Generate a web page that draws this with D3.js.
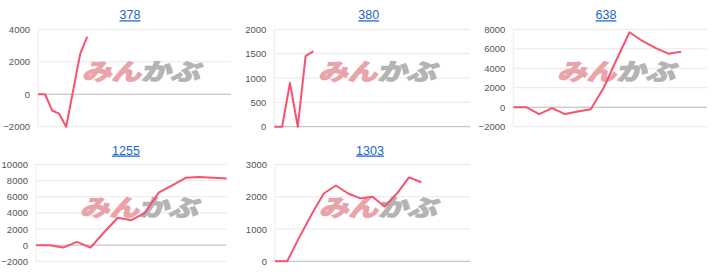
<!DOCTYPE html>
<html lang="ja">
<head>
    <meta charset="UTF-8">
    <title>収支グラフ</title>
    <script src="https://cdn.jsdelivr.net/npm/d3@7"></script>
    <style>
        body { margin: 0; background: #fff; }
        svg { display: block; }
        .title { font-family: Arial, "Liberation Sans", sans-serif; font-size: 12.5px; fill: #1a66cc; text-decoration: underline; }
        .tick-label { font-family: Arial, "Liberation Sans", sans-serif; font-size: 9.5px; fill: #555; }
    </style>
</head>
<body>
    <div id="chart-space"></div>

    <script>
        // chart titles (machine numbers)
        var titles = ["378", "380", "638", "1255", "1303"];

        // cumulative results, one value per day
        var s378 = [0, 0, -1000, -1200, -2000, 250, 2500, 3550];
        var s380 = [0, 0, 900, 0, 1450, 1550];
        var s638 = [0, 0, -700, -100, -700, -450, -200, 2000, 4900, 7700, 6800, 6100, 5500, 5700];
        var s1255 = [0, 0, -300, 400, -300, 1600, 3400, 3100, 4000, 6500, 7400, 8350, 8450, 8350, 8250];
        var s1303 = [0, 0, 750, 1450, 2100, 2350, 2100, 1950, 2000, 1700, 2100, 2600, 2450];
        var series = [s378, s380, s638, s1255, s1303];

        // x extent (days on the axis) and y axis ticks
        var xSpans = [27.4, 25, 15, 14, 16];
        var yTicks = [
            [-2000, 0, 2000, 4000],
            [0, 500, 1000, 1500, 2000],
            [-2000, 0, 2000, 4000, 6000, 8000],
            [-2000, 0, 2000, 4000, 6000, 8000, 10000],
            [0, 1000, 2000, 3000]
        ];

        var width = 720;
        var height = 279;

        // plot boxes [left, right, top, bottom] and title centre
        var boxes = [
            {l: 38, r: 231, t: 29.3, b: 126.7, tx: 130},
            {l: 274.3, r: 470, t: 29.3, b: 126.7, tx: 368.7},
            {l: 513.3, r: 707, t: 29.3, b: 126.7, tx: 606},
            {l: 36, r: 226.7, t: 164.5, b: 261.3, tx: 126},
            {l: 275, r: 470, t: 164.5, b: 261.3, tx: 370}
        ];

        var svg = d3.select("#chart-space")
            .append("svg")
            .attr("width", width)
            .attr("height", height);

        series.forEach(function(data, i) {
            var box = boxes[i];
            var ticks = yTicks[i];

            var xScale = d3.scaleLinear()
                .domain([0, xSpans[i]])
                .range([box.l, box.r]);

            var yScale = d3.scaleLinear()
                .domain([d3.min(ticks), d3.max(ticks)])
                .range([box.b, box.t]);

            var g = svg.append("g");

            // title
            g.append("text")
                .attr("class", "title")
                .attr("x", box.tx)
                .attr("y", box.t - 10)
                .attr("text-anchor", "middle")
                .text(titles[i]);

            // gridlines
            g.selectAll(".grid")
                .data(ticks)
                .join("line")
                .attr("class", "grid")
                .attr("x1", box.l)
                .attr("x2", box.r)
                .attr("y1", function(d) { return yScale(d); })
                .attr("y2", function(d) { return yScale(d); })
                .attr("stroke", function(d) { return d === 0 ? "#b8b8b8" : "#e8e8e8"; })
                .attr("stroke-width", 1);

            g.append("line")
                .attr("x1", box.l)
                .attr("x2", box.l)
                .attr("y1", box.t)
                .attr("y2", box.b)
                .attr("stroke", "#ececec");

            // y axis labels
            var yAxis = g.append("g")
                .attr("transform", "translate(" + box.l + ",0)")
                .call(d3.axisLeft(yScale).tickValues(ticks).tickSize(0).tickPadding(8).tickFormat(d3.format("d")));
            yAxis.select(".domain").remove();
            yAxis.selectAll("text")
                .attr("class", "tick-label")
                .attr("fill", null);
            yAxis.attr("font-size", null).attr("font-family", null);

            // watermark logo
            var logo = g.append("text")
                .attr("x", 0)
                .attr("y", 0)
                .attr("transform", "translate(" + (box.l + 44) + "," + (box.t + 51) + ") skewX(-14) scale(1,0.92)")
                .attr("textLength", 118)
                .attr("lengthAdjust", "spacingAndGlyphs")
                .style("font-family", "'Noto Sans CJK JP', sans-serif")
                .style("font-weight", "bold")
                .style("font-size", "25px");
            logo.append("tspan")
                .attr("fill", "#e9a4aa")
                .attr("stroke", "#e9a4aa")
                .attr("stroke-width", 1.6)
                .text("みん");
            logo.append("tspan")
                .attr("fill", "#b4b4b4")
                .attr("stroke", "#b4b4b4")
                .attr("stroke-width", 1.6)
                .text("かぶ");

            // line
            var line = d3.line()
                .x(function(d, j) { return xScale(j); })
                .y(function(d) { return yScale(d); });

            g.append("path")
                .datum(data)
                .attr("d", line)
                .attr("fill", "none")
                .attr("stroke", "#f5536f")
                .attr("stroke-width", 2)
                .attr("stroke-linejoin", "round");
        });
    </script>
</body>
</html>
